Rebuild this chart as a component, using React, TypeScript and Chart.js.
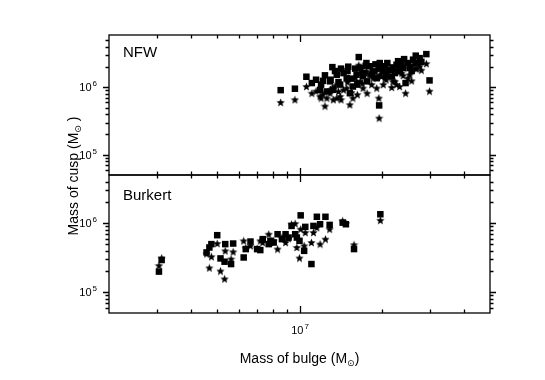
import { useEffect, useRef } from "react";
import { Chart, registerables } from "chart.js";

Chart.register(...registerables);

// ---- data ----
const nfwBulge = [8.53e6, 9.62e6, 1.06e7, 1.11e7, 1.2e7, 1.24e7, 1.32e7, 1.42e7, 1.51e7, 1.65e7, 1.76e7, 1.96e7, 1.97e7, 2.06e7, 2.2e7, 2.27e7, 2.42e7, 2.67e7, 2.92e7, 3.0e7, 2.45e7, 1.62e7, 1.49e7, 1.37e7, 1.295e7, 1.57e7, 1.77e7, 1.92e7, 2.08e7, 2.33e7, 2.54e7, 2.69e7, 1.86e7, 1.67e7, 1.41e7, 1.53e7, 1.33e7, 1.26e7, 1.19e7, 2.14e7, 2.37e7, 2.5e7, 1.81e7, 2.03e7, 1.71e7, 1.45e7, 2.61e7, 2.76e7, 2.24e7, 1.955e7, 1.3e7, 1.39e7, 1.5e7, 1.6e7, 1.7e7, 1.75e7, 1.84e7, 1.9e7, 2.0e7, 2.1e7, 2.18e7, 2.3e7, 2.4e7, 2.58e7, 2.8e7, 1.15e7, 1.22e7, 1.35e7, 1.55e7, 1.63e7];
const nfwSquare = [9.1e5, 9.56e5, 1.44e6, 1.16e6, 1.1e6, 1.51e6, 2.0e6, 1.9e6, 2.03e6, 2.82e6, 2.3e6, 5.4e5, 2.3e6, 2.06e6, 1.98e6, 2.17e6, 2.63e6, 2.96e6, 3.12e6, 1.27e6, 1.16e6, 1.54e6, 1.37e6, 1.54e6, 1.23e6, 1.03e6, 1.23e6, 1.37e6, 1.54e6, 1.73e6, 1.94e6, 2.3e6, 1.73e6, 1.94e6, 1.1e6, 8.2e5, 9.2e5, 8.7e5, 9.2e5, 1.83e6, 2.17e6, 2.3e6, 2.06e6, 1.73e6, 1.46e6, 1.63e6, 2.58e6, 2.72e6, 1.63e6, 1.9e6, 1.3e6, 1.2e6, 1.75e6, 1.9e6, 1.65e6, 2.1e6, 1.55e6, 2.2e6, 1.95e6, 2.3e6, 1.45e6, 2.45e6, 1.95e6, 1.75e6, 2.4e6, 1.3e6, 1.25e6, 1.75e6, 1.35e6, 1.1e6];
const nfwStar = [5.98e5, 6.56e5, 1.03e6, 8.2e5, 6.93e5, 5.28e5, 9.77e5, 6.56e5, 1.37e6, 2.14e6, 1.73e6, 3.5e5, 1.54e6, 1.37e6, 1.23e6, 1.1e6, 1.94e6, 1.9e6, 2.25e6, 8.8e5, 8.2e5, 1.23e6, 9.77e5, 6.93e5, 8.2e5, 6.93e5, 8.2e5, 9.77e5, 1.3e6, 1.03e6, 1.54e6, 1.9e6, 1.37e6, 1.23e6, 7.35e5, 5.53e5, 6.56e5, 6.93e5, 7.35e5, 1.46e6, 1.63e6, 1.37e6, 1.54e6, 1.1e6, 9.77e5, 9.2e5, 2.17e6, 2.06e6, 1.23e6, 6.93e5, 9.2e5, 8.7e5, 1.2e6, 1.4e6, 1.15e6, 1.6e6, 1.1e6, 1.7e6, 1.45e6, 1.75e6, 1.0e6, 1.85e6, 1.5e6, 1.25e6, 1.8e6, 8.8e5, 7.9e5, 1.05e6, 8.4e5, 7.8e5];

const burkertBulge = [3.05e6, 3.12e6, 4.56e6, 4.67e6, 4.75e6, 4.99e6, 5.13e6, 5.31e6, 5.34e6, 5.61e6, 5.71e6, 6.24e6, 6.35e6, 6.61e6, 6.99e6, 7.18e6, 7.33e6, 7.71e6, 7.82e6, 8.31e6, 8.89e6, 9.12e6, 9.35e6, 9.64e6, 9.78e6, 1.0e7, 1.01e7, 1.04e7, 1.05e7, 1.106e7, 1.125e7, 1.158e7, 1.19e7, 1.245e7, 1.29e7, 1.44e7, 1.48e7, 1.585e7, 1.98e7, 8.04e6, 8.62e6];
const burkertSquare = [1.99e5, 2.93e5, 3.77e5, 4.45e5, 4.98e5, 6.71e5, 3.09e5, 2.77e5, 4.98e5, 2.56e5, 5.08e5, 3.19e5, 4.22e5, 5.43e5, 4.22e5, 4.08e5, 5.88e5, 4.98e5, 5.56e5, 6.93e5, 6.93e5, 6.2e5, 9.14e5, 6.93e5, 6.2e5, 5.56e5, 1.3e6, 3.98e5, 8.85e5, 2.56e5, 9.14e5, 1.24e6, 9.68e5, 1.24e6, 9.46e5, 1.02e6, 9.68e5, 4.22e5, 1.35e6, 5.25e5, 5.88e5];
const burkertStar = [2.43e5, 3.13e5, 3.6e5, 2.25e5, 3.27e5, 5.08e5, 2.03e5, 1.56e5, 3.98e5, 3.03e5, 3.85e5, 5.56e5, 4.36e5, 4.71e5, 4.3e5, 5.56e5, 5.25e5, 6.93e5, 5.25e5, 4.22e5, 5.25e5, 6.0e5, 9.68e5, 9.87e5, 4.45e5, 3.13e5, 8.2e5, 4.71e5, 7.33e5, 5.25e5, 7.33e5, 8.65e5, 4.98e5, 5.88e5, 8.2e5, 1.08e6, 9.9e5, 4.87e5, 1.1e6, 5.56e5, 6.2e5];

// ---- axes / ticks ----
const xMin = 2e6;
const xMax = 5e7;
const topYMin = 5e4;
const topYMax = 6e6;
const botYMin = 5e4;
const botYMax = 5e6;
const xMajorTicks = [1e7];
const xMajorLabels = [["10", "7"]];
const xMinorTicks = [3e6, 4e6, 5e6, 6e6, 7e6, 8e6, 9e6, 2e7, 3e7, 4e7];
const yMajorTicks = [1e5, 1e6];
const yMajorLabels = [["10", "5"], ["10", "6"]];
const yMinorTicks = [6e4, 7e4, 8e4, 9e4, 2e5, 3e5, 4e5, 5e5, 6e5, 7e5, 8e5, 9e5, 2e6, 3e6, 4e6, 5e6];
const panelNames = ["NFW", "Burkert"];
const xTitle = ["Mass of bulge (M", "\u2299", ")"];
const yTitle = ["Mass of cusp (M", "\u2299", " )"];

const FONT = '"Liberation Sans", Arial, Helvetica, sans-serif';

function makeStar(size: number, R: number, ratio: number) {
  const c = document.createElement("canvas");
  c.width = size;
  c.height = size;
  const g = c.getContext("2d")!;
  const cx = size / 2;
  const cy = size / 2 + 0.4;
  const r = R * ratio;
  g.beginPath();
  for (let i = 0; i < 10; i++) {
    const a = -Math.PI / 2 + (i * Math.PI) / 5;
    const rad = i % 2 === 0 ? R : r;
    const px = cx + rad * Math.cos(a);
    const py = cy + rad * Math.sin(a);
    if (i === 0) g.moveTo(px, py);
    else g.lineTo(px, py);
  }
  g.closePath();
  g.fillStyle = "#000";
  g.fill();
  return c;
}

function drawPow(ctx: CanvasRenderingContext2D, base: string, exp: string, x: number, y: number, align: "right" | "center") {
  ctx.font = `11px ${FONT}`;
  const bw = ctx.measureText(base).width;
  ctx.font = `8px ${FONT}`;
  const ew = ctx.measureText(exp).width;
  const total = bw + 1 + ew;
  const start = align === "right" ? x - total : x - total / 2;
  ctx.textAlign = "left";
  ctx.textBaseline = "alphabetic";
  ctx.font = `11px ${FONT}`;
  ctx.fillText(base, start, y);
  ctx.font = `8px ${FONT}`;
  ctx.fillText(exp, start + bw + 1, y - 5);
}

function drawTitle(ctx: CanvasRenderingContext2D, parts: string[], cx: number, y: number) {
  ctx.textAlign = "left";
  ctx.textBaseline = "alphabetic";
  ctx.font = `14px ${FONT}`;
  const w0 = ctx.measureText(parts[0]).width;
  const w2 = ctx.measureText(parts[2]).width;
  ctx.font = `9px "DejaVu Sans", ${FONT}`;
  const w1 = ctx.measureText(parts[1]).width;
  const total = w0 + w1 + w2;
  let x = cx - total / 2;
  ctx.font = `14px ${FONT}`;
  ctx.fillText(parts[0], x, y);
  x += w0;
  ctx.font = `9px "DejaVu Sans", ${FONT}`;
  ctx.fillText(parts[1], x, y + 3);
  x += w1;
  ctx.font = `14px ${FONT}`;
  ctx.fillText(parts[2], x, y);
}

const framePlugin = {
  id: "frames",
  afterDatasetsDraw(chart: any) {
    const ctx: CanvasRenderingContext2D = chart.ctx;
    const { left, right, top: areaTop, bottom: areaBottom } = chart.chartArea;
    const xs = chart.scales.x;
    const panels = [chart.scales.yTop, chart.scales.yBot];
    ctx.save();
    ctx.strokeStyle = "#000";
    ctx.fillStyle = "#000";
    ctx.lineWidth = 1.3;
    panels.forEach((ys: any, idx: number) => {
      const top = ys.top;
      const bottom = ys.bottom;
      ctx.strokeRect(left, top, right - left, bottom - top);
      ctx.beginPath();
      xMinorTicks.forEach((v) => {
        const px = Math.round(xs.getPixelForValue(v)) + 0.5;
        ctx.moveTo(px, bottom);
        ctx.lineTo(px, bottom - 3.5);
        ctx.moveTo(px, top);
        ctx.lineTo(px, top + 3.5);
      });
      xMajorTicks.forEach((v) => {
        const px = Math.round(xs.getPixelForValue(v)) + 0.5;
        ctx.moveTo(px, bottom);
        ctx.lineTo(px, bottom - 7);
        ctx.moveTo(px, top);
        ctx.lineTo(px, top + 7);
      });
      yMinorTicks.forEach((v) => {
        if (v <= ys.min || v >= ys.max) return;
        const py = Math.round(ys.getPixelForValue(v)) + 0.5;
        ctx.moveTo(left, py);
        ctx.lineTo(left - 3.5, py);
        ctx.moveTo(right, py);
        ctx.lineTo(right + 3.5, py);
      });
      yMajorTicks.forEach((v) => {
        const py = Math.round(ys.getPixelForValue(v)) + 0.5;
        ctx.moveTo(left, py);
        ctx.lineTo(left - 6, py);
        ctx.moveTo(right, py);
        ctx.lineTo(right + 6, py);
      });
      ctx.stroke();
      yMajorTicks.forEach((v, i) => {
        const py = ys.getPixelForValue(v);
        drawPow(ctx, yMajorLabels[i][0], yMajorLabels[i][1], left - 12, py + 4, "right");
      });
      ctx.font = `15px ${FONT}`;
      ctx.textAlign = "left";
      ctx.textBaseline = "alphabetic";
      ctx.fillText(panelNames[idx], left + 14, top + (idx === 0 ? 22 : 25));
    });
    xMajorTicks.forEach((v, i) => {
      const px = xs.getPixelForValue(v);
      drawPow(ctx, xMajorLabels[i][0], xMajorLabels[i][1], px + 0.5, areaBottom + 21, "center");
    });
    drawTitle(ctx, xTitle, (left + right) / 2, areaBottom + 50);
    ctx.save();
    ctx.translate(78, (areaTop + areaBottom) / 2 + 2);
    ctx.rotate(-Math.PI / 2);
    drawTitle(ctx, yTitle, 0, 0);
    ctx.restore();
    ctx.restore();
  },
};

export default function App() {
  const ref = useRef<HTMLCanvasElement | null>(null);
  useEffect(() => {
    document.body.style.margin = "0";
    const star = makeStar(9, 4.3, 0.45);
    const toPts = (xs: number[], ys: number[]) => xs.map((x, i) => ({ x, y: ys[i] }));
    const chart = new Chart(ref.current!, {
      type: "scatter",
      data: {
        datasets: [
          { label: "NFW star", data: toPts(nfwBulge, nfwStar), yAxisID: "yTop", pointStyle: star as any, pointRadius: 4.5, backgroundColor: "#000", borderColor: "#000" },
          { label: "NFW square", data: toPts(nfwBulge, nfwSquare), yAxisID: "yTop", pointStyle: "rect", pointRadius: 4.6, borderWidth: 0, backgroundColor: "#000", borderColor: "#000" },
          { label: "Burkert star", data: toPts(burkertBulge, burkertStar), yAxisID: "yBot", pointStyle: star as any, pointRadius: 4.5, backgroundColor: "#000", borderColor: "#000" },
          { label: "Burkert square", data: toPts(burkertBulge, burkertSquare), yAxisID: "yBot", pointStyle: "rect", pointRadius: 4.6, borderWidth: 0, backgroundColor: "#000", borderColor: "#000" },
        ],
      },
      options: {
        responsive: false,
        animation: false,
        devicePixelRatio: 1,
        layout: { padding: { left: 109, right: 55, top: 35, bottom: 67 } },
        plugins: { legend: { display: false }, tooltip: { enabled: false } },
        scales: {
          x: { type: "logarithmic", min: xMin, max: xMax, display: false },
          yBot: { type: "logarithmic", min: botYMin, max: botYMax, display: false, position: "left", stack: "panels", stackWeight: 138 },
          yTop: { type: "logarithmic", min: topYMin, max: topYMax, display: false, position: "left", stack: "panels", stackWeight: 140 },
        },
      },
      plugins: [framePlugin],
    });
    return () => chart.destroy();
  }, []);
  return (
    <div style={{ position: "absolute", left: 0, top: 0, width: 545, height: 380, background: "#fff" }}>
      <canvas ref={ref} width={545} height={380} style={{ display: "block" }} />
    </div>
  );
}
